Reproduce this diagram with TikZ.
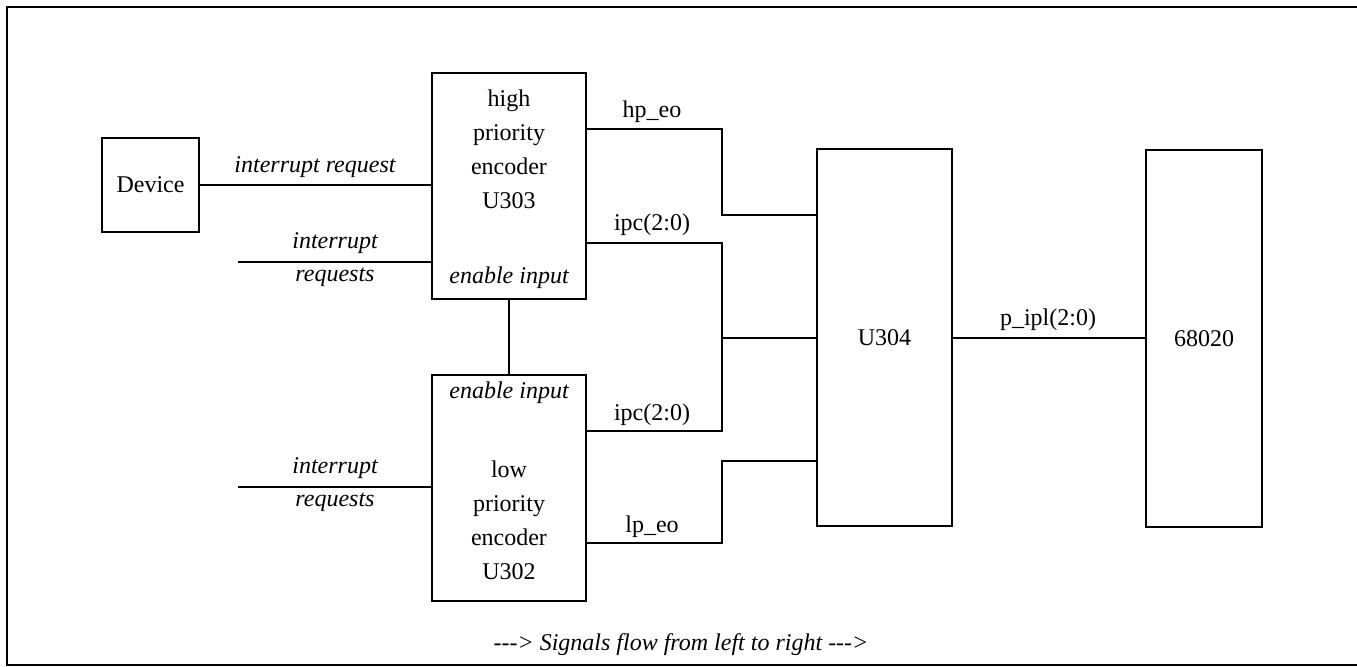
\documentclass[tikz,border=0pt]{standalone}
\usepackage{fontspec}
\setmainfont{Liberation Serif}
\usetikzlibrary{positioning}

\begin{document}
\begin{tikzpicture}[x=0.5pt,y=-0.5pt,line width=1.1pt,
  font=\fontsize{12}{17}\selectfont,
  blk/.style={draw,inner sep=0pt,outer sep=0pt},
  lbl/.style={inner sep=1pt,align=center},
  sig/.style={inner sep=1pt,font=\fontsize{12}{17}\selectfont\itshape}]
\useasboundingbox (0,0) rectangle (1357,667);
% frame (open on the right, as in the scan)
\draw (1357,7) -- (7,7) -- (7,665) -- (1357,665);
% blocks
\node[blk,minimum width=48.5pt,minimum height=47pt] (dev) at (150.5,185) {Device};
\node[blk,minimum width=77pt,minimum height=113pt] (hpe) at (509,186) {};
\node[blk,minimum width=77pt,minimum height=113pt] (lpe) at (509,488) {};
\node[blk,minimum width=67.5pt,minimum height=188.5pt] (mux) at (884.5,337.5) {U304};
\node[blk,minimum width=58pt,minimum height=188.5pt] (cpu) at (1204,338.5) {68020};
% texts inside the encoders
\node[lbl] (hpetxt) at (509,149.5) {high\\priority\\encoder\\U303};
\node[sig] (hpeen) at (509,278) {enable input};
\node[sig] (lpeen) at (509,393) {enable input};
\node[lbl] (lpetxt) at (509,520.5) {low\\priority\\encoder\\U302};
% inputs
\draw (dev.east) -- (dev.east -| hpe.west);
\node[sig] (irqlbl) at (315,167) {interrupt request};
\coordinate (irqa) at (238,262);
\coordinate (irqb) at (238,487);
\draw (irqa) -- (irqa -| hpe.west);
\draw (irqb) -- (irqb -| lpe.west);
\node[sig] (irqa1) at (335,243) {interrupt};
\node[sig] (irqa2) at (335,277) {requests};
\node[sig] (irqb1) at (335,468) {interrupt};
\node[sig] (irqb2) at (335,502) {requests};
% enable chain
\draw (hpe.south) -- (lpe.north);
% encoder outputs to U304
\coordinate (hpo) at (586,129);
\coordinate (hpi) at (586,243);
\coordinate (lpi) at (586,431);
\coordinate (lpo) at (586,543);
\draw (hpo) -- (722,129) -- (722,215) -- (722,215 -| mux.west);
\draw (hpi) -- (722,243) -- (722,338) -- (722,338 -| mux.west);
\draw (lpi) -- (722,431) -- (722,338);
\draw (lpo) -- (722,543) -- (722,461) -- (722,461 -| mux.west);
\node[lbl] (hpeo) at (652,112) {hp\_eo};
\node[lbl] (ipca) at (652,225) {ipc(2:0)};
\node[lbl] (ipcb) at (652,415) {ipc(2:0)};
\node[lbl] (lpeo) at (652,527) {lp\_eo};
% U304 to cpu
\draw (952,338) -- (952,338 -| cpu.west);
\node[lbl] (pipl) at (1048,320) {p\_ipl(2:0)};
% caption
\node[sig] (flow) at (681,645) {-{}-{}-> Signals flow from left to right -{}-{}->};
\end{tikzpicture}
\end{document}
